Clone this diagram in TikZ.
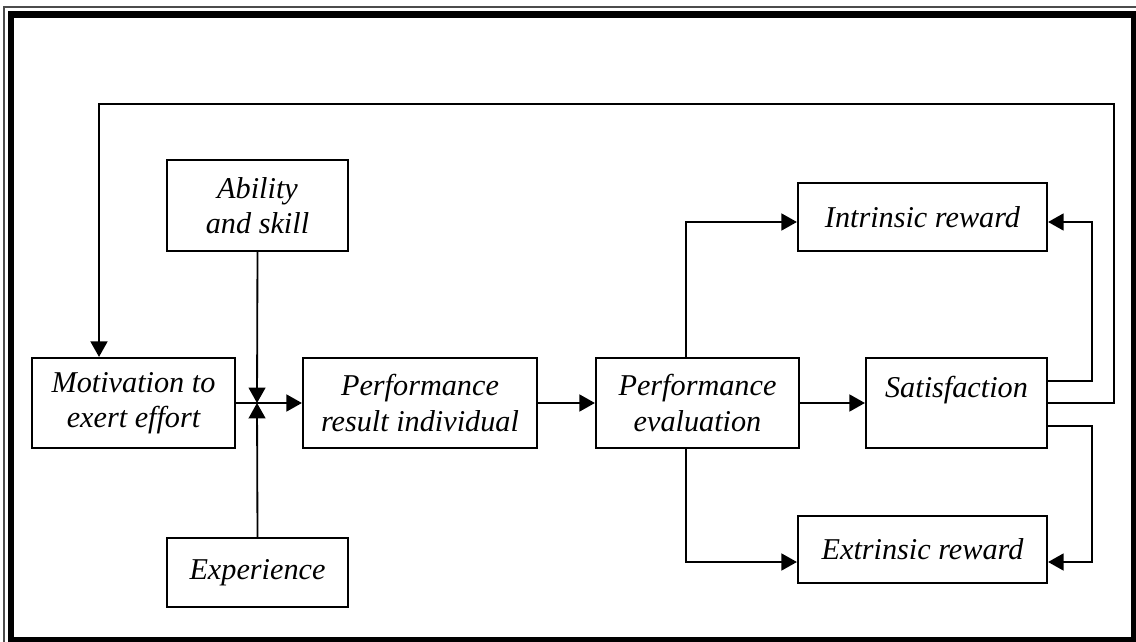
\documentclass[tikz,border=0pt]{standalone}
\usepackage{fontspec}
\setmainfont{Liberation Serif}
\usetikzlibrary{arrows.meta, positioning}

\begin{document}
\begin{tikzpicture}[
  x=0.025cm, y=-0.025cm,
  box/.style={rectangle, draw=black, line width=1.5pt, inner sep=0pt,
              align=center, font=\itshape\fontsize{21.5}{25}\selectfont},
  arrow/.style={-{Triangle[length=11pt, width=12pt]}, line width=1.3pt, color=black}
]
  \useasboundingbox (0,0) rectangle (1136,642);
  \clip (0,0) rectangle (1136,642);
  \draw[line width=0.8pt, black!70] (4,7) rectangle (1141,647);
  \draw[line width=4.3pt] (11,14.5) rectangle (1134,640);

  \node[box, minimum width=4.525cm, minimum height=2.275cm] (ability)  at (257.5,205.5) {Ability\\and skill};
  \node[box, minimum width=4.525cm, minimum height=1.725cm] (exper)    at (257.5,572.5) {Experience};
  \node[box, minimum width=5.075cm, minimum height=2.25cm]  (motiv)    at (133.5,403)   {Motivation to\\exert effort};
  \node[box, minimum width=5.85cm,  minimum height=2.25cm]  (perfres)  at (420,403)     {Performance\\result individual};
  \node[box, minimum width=5.075cm, minimum height=2.25cm]  (perfeval) at (697.5,403)   {Performance\\evaluation};
  \node[box, minimum width=4.525cm, minimum height=2.25cm,
        text height=15pt, text depth=23.5pt]                (satis)    at (956.5,403)   {Satisfaction};
  \node[box, minimum width=6.225cm, minimum height=1.7cm]   (intr)     at (922.5,217)   {Intrinsic reward};
  \node[box, minimum width=6.225cm, minimum height=1.675cm] (extr)     at (922.5,549.5) {Extrinsic reward};

  \coordinate (jn)  at (257,403);
  \coordinate (fbR) at (1114,104);
  \coordinate (fbL) at (99,104);
  \coordinate (rc)  at (1092,0);

  \draw[arrow] (ability.south) -- (jn);
  \draw[arrow] (exper.north) -- (jn);
  \draw[arrow] (motiv) -- (perfres);
  \draw[arrow] (perfres) -- (perfeval);
  \draw[arrow] (perfeval) -- (satis);

  \draw[arrow] ([xshift=-0.2875cm]perfeval.north) |- ([yshift=-0.125cm]intr.west);
  \draw[arrow] ([xshift=-0.2875cm]perfeval.south) |- ([yshift=-0.3125cm]extr.west);

  \draw[arrow] ([yshift=0.55cm]satis.east) -| ([yshift=-0.125cm]intr.east -| rc) -- ([yshift=-0.125cm]intr.east);
  \draw[arrow] ([yshift=-0.575cm]satis.east) -| ([yshift=-0.3125cm]extr.east -| rc) -- ([yshift=-0.3125cm]extr.east);

  \draw[arrow] (satis.east) -| (fbR) -- (fbL) -- (fbL |- motiv.north);
\end{tikzpicture}
\end{document}
